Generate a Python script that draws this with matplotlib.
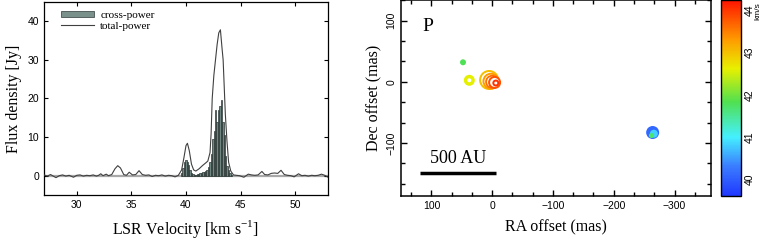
import numpy as np
import matplotlib
matplotlib.use("Agg")
import matplotlib.pyplot as plt
from matplotlib.colors import LinearSegmentedColormap, Normalize
from matplotlib.ticker import AutoMinorLocator, MultipleLocator
from matplotlib.lines import Line2D
from matplotlib.patches import Patch

# ---------------- data ----------------
cross_vel = [39.60, 39.73, 39.86, 39.99, 40.12, 40.25, 40.38, 40.51, 40.64, 40.77,
             40.90, 41.03, 41.16, 41.29, 41.42, 41.55, 41.68, 41.81, 41.94, 42.07,
             42.20, 42.33, 42.46, 42.59, 42.72, 42.85, 42.98, 43.11, 43.24, 43.37,
             43.50, 43.63, 43.76, 43.89, 44.02, 44.15]
cross_flux = [0.6, 2.0, 3.5, 4.0, 3.6, 2.8, 1.4, 0.6, 0.4, 0.3,
              0.3, 0.4, 0.5, 0.6, 0.8, 0.9, 1.0, 1.2, 1.5, 2.3,
              3.5, 5.5, 9.5, 11.5, 17.0, 14.0, 17.0, 18.0, 19.5, 14.0,
              10.5, 5.0, 2.5, 1.4, 0.6, 0.2]

total_vel = [27.0, 27.3, 27.6, 27.9, 28.1, 28.4, 28.7, 29.0, 29.3, 29.7,
             30.0, 30.3, 30.6, 30.9, 31.2, 31.5, 31.8, 32.0, 32.2, 32.4,
             32.7, 32.9, 33.2, 33.5, 33.75, 34.0, 34.3, 34.55, 34.8, 35.1,
             35.4, 35.7, 36.0, 36.3, 36.6, 36.9, 37.2, 37.5, 37.8, 38.1,
             38.4, 38.7, 39.0, 39.3, 39.6, 39.8, 40.0, 40.13, 40.3, 40.5,
             40.7, 40.9, 41.2, 41.5, 41.8, 42.0, 42.2, 42.3, 42.4, 42.55,
             42.7, 42.85, 43.0, 43.15, 43.3, 43.4, 43.5, 43.6, 43.75, 43.9,
             44.1, 44.35, 44.6, 44.9, 45.3, 45.7, 46.0, 46.3, 46.6, 46.95,
             47.2, 47.5, 47.8, 48.1, 48.4, 48.7, 49.0, 49.3, 49.6, 49.9,
             50.3, 50.6, 50.9, 51.2, 51.5, 51.8, 52.1, 52.4, 52.7, 53.0]
total_flux = [0.2, -0.1, 0.3, -0.2, -0.5, 0.0, 0.2, -0.1, 0.1, -0.4,
              0.1, 0.2, -0.1, 0.1, 0.0, 0.2, -0.1, 0.1, 0.5, 0.0,
              0.4, 0.0, 0.3, 1.8, 2.6, 2.0, 0.3, 0.1, 0.9, 0.2,
              0.3, 1.3, 0.3, 0.1, 0.2, -0.2, 0.1, 0.0, 0.2, -0.1,
              0.1, 0.0, -0.3, 0.1, 1.5, 4.5, 7.8, 8.4, 6.5, 3.0,
              1.5, 1.2, 1.8, 2.6, 3.3, 3.8, 6.0, 11.0, 20.0, 26.0,
              30.0, 34.0, 37.0, 37.8, 33.0, 30.0, 23.0, 16.0, 9.0, 3.5,
              1.2, 0.2, 0.1, 0.0, -0.4, 0.4, 0.2, 0.1, 0.2, 1.1,
              0.3, 0.2, 0.6, 0.7, 0.6, 1.4, 0.3, 0.1, 0.0, -0.3,
              0.5, 0.0, 0.1, -0.1, 0.1, 0.0, 0.1, 0.4, 0.1, -0.4]

# maser spots: RA offset, Dec offset (mas), LSR velocity, outer radius (px), inner white radius (px)
spot_ra = [48, 37.6, 5, 2, 0, -4, -6, -264, -266, -262]
spot_dec = [32, 2.5, 3, 1, 0, -1, -2, -83, -85, -88]
spot_vel = [41.8, 42.6, 43.0, 43.3, 43.6, 43.8, 44.05, 40.1, 40.8, 41.7]
spot_rout = [3.0, 5.5, 10.0, 8.5, 7.0, 6.5, 3.5, 6.5, 4.0, 2.5]
spot_rin = [0.0, 2.0, 8.0, 6.5, 5.2, 4.5, 1.5, 0.0, 0.0, 0.0]

cbar_ticks = [40, 41, 42, 43, 44]

# ---------------- figure ----------------
W, H = 764, 241
fig = plt.figure(figsize=(W / 100, H / 100), dpi=100)

serif = "Liberation Serif"
sans = "Liberation Sans"

# ---- left panel ----
ax1 = fig.add_axes([44 / W, 1 - 195 / H, 284 / W, 193 / H])
ax1.axhline(0, color="#a8a8a8", lw=1.6, zorder=1)
ax1.bar(cross_vel, cross_flux, width=0.13, color="#6f8682", edgecolor="#2a3533",
        linewidth=0.5, zorder=2)
ax1.plot(total_vel, total_flux, color="#404040", lw=0.8, zorder=3)
ax1.set_xlim(27, 53)
ax1.set_ylim(-5, 45)
ax1.xaxis.set_major_locator(MultipleLocator(5))
ax1.yaxis.set_major_locator(MultipleLocator(10))
ax1.tick_params(direction="in", top=True, right=True, length=3, width=0.8,
                labelsize=7.5)
for lab in ax1.get_xticklabels() + ax1.get_yticklabels():
    lab.set_fontfamily(sans)
ax1.set_xlabel("LSR Velocity [km s$^{\\mathregular{-1}}$]", fontfamily=serif,
               fontsize=11.5, labelpad=6)
ax1.set_ylabel("Flux density [Jy]", fontfamily=serif, fontsize=11.5, labelpad=4)
for s in ax1.spines.values():
    s.set_linewidth(0.9)
handles = [Patch(facecolor="#7a908b", edgecolor="#2e3a38", linewidth=0.5),
           Line2D([0], [0], color="#404040", lw=0.8)]
ax1.legend(handles, ["cross-power", "total-power"], loc="upper left",
           bbox_to_anchor=(0.03, 1.0), frameon=False, prop={"family": serif, "size": 8},
           handlelength=2.9, handleheight=0.5, labelspacing=0.15, handletextpad=0.6,
           borderaxespad=0.4)

# ---- right panel ----
cmap = LinearSegmentedColormap.from_list(
    "maser", [(0.0, "#2038ff"), (0.15, "#3a7cff"), (0.3, "#45f0ff"),
              (0.48, "#50e050"), (0.65, "#e8f000"), (0.8, "#ff9a00"),
              (1.0, "#ff1400")])
norm = Normalize(vmin=39.6, vmax=44.25)

ax2 = fig.add_axes([401 / W, 1 - 196 / H, 310 / W, 196 / H])
ax2.set_xlim(150, -360)
ax2.set_ylim(-187, 134)
px2pt = 0.72
for ra, dec, v, ro, ri in zip(spot_ra, spot_dec, spot_vel, spot_rout, spot_rin):
    c = cmap(norm(v))
    ax2.scatter([ra], [dec], s=(2 * ro * px2pt) ** 2, color=c, edgecolors="none",
                zorder=3)
    if ri > 0:
        ax2.scatter([ra], [dec], s=(2 * ri * px2pt) ** 2, color="white",
                    edgecolors="none", zorder=3)
ax2.plot([119, -7], [-150, -150], color="black", lw=2.5, solid_capstyle="butt")
ax2.text(56, -126, "500 AU", fontfamily=serif, fontsize=13, ha="center",
         va="center")
ax2.text(106, 90, "P", fontfamily=serif, fontsize=14, ha="center", va="center")
ax2.xaxis.set_major_locator(MultipleLocator(100))
ax2.yaxis.set_major_locator(MultipleLocator(100))
ax2.xaxis.set_minor_locator(AutoMinorLocator(3))
ax2.yaxis.set_minor_locator(AutoMinorLocator(3))
ax2.tick_params(which="both", direction="in", top=True, right=True, width=1.0,
                labelsize=7.5)
ax2.tick_params(which="major", length=4)
ax2.tick_params(which="minor", length=3)
for lab in ax2.get_xticklabels() + ax2.get_yticklabels():
    lab.set_fontfamily(sans)
for lab in ax2.get_yticklabels():
    lab.set_rotation(90)
    lab.set_va("center")
ax2.set_xlabel("RA offset (mas)", fontfamily=serif, fontsize=11.5, labelpad=6)
ax2.set_ylabel("Dec offset (mas)", fontfamily=serif, fontsize=11.5, labelpad=3)
for s in ax2.spines.values():
    s.set_linewidth(1.1)

# ---- colorbar ----
cax = fig.add_axes([721 / W, 1 - 196 / H, 20 / W, 196 / H])
sm = matplotlib.cm.ScalarMappable(norm=norm, cmap=cmap)
cb = fig.colorbar(sm, cax=cax, ticks=cbar_ticks)
cb.outline.set_linewidth(1.0)
cax.tick_params(length=0, labelsize=7.5, pad=3)
for lab in cax.get_yticklabels():
    lab.set_rotation(90)
    lab.set_va("center")
    lab.set_fontfamily(sans)
fig.text(758 / W, 1 - 2 / H, "km/s", fontsize=6, fontfamily=sans, rotation=90,
         ha="center", va="top")

fig.savefig("out.png", dpi=100)
